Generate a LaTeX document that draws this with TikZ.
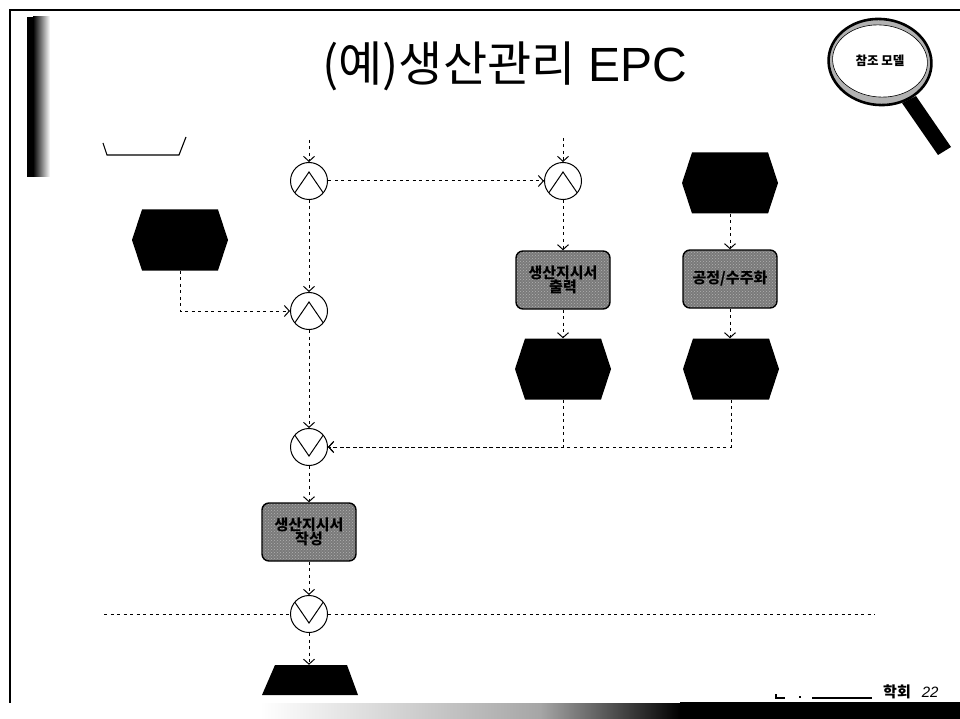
\documentclass[tikz,border=0pt]{standalone}
\usepackage{fontspec}
\setmainfont{Liberation Sans}
\newfontfamily\kr{Noto Sans CJK KR}
\usetikzlibrary{arrows.meta,patterns,calc,shapes.geometric}
\tikzset{
  conn/.style={line width=1pt,dash pattern=on 3pt off 3.5pt,-{Straight Barb[length=5pt,width=11pt,line width=1pt]}},
  plainconn/.style={line width=1pt,dash pattern=on 3pt off 3.5pt},
  hexbox/.style={rectangle,minimum width=96pt,minimum height=61pt,inner sep=0pt,
    path picture={\fill[black]
      (path picture bounding box.west)
      -- ([xshift=10pt]path picture bounding box.north west)
      -- ([xshift=-10pt]path picture bounding box.north east)
      -- (path picture bounding box.east)
      -- ([xshift=-10pt]path picture bounding box.south east)
      -- ([xshift=10pt]path picture bounding box.south west) -- cycle;}},
  trapbox/.style={rectangle,minimum width=96pt,minimum height=30pt,inner sep=0pt,
    path picture={\fill[black]
      (path picture bounding box.south west)
      -- ([xshift=13pt]path picture bounding box.north west)
      -- ([xshift=-11pt]path picture bounding box.north east)
      -- (path picture bounding box.south east) -- cycle;}},
  funcbox/.style={rectangle,rounded corners=7pt,draw=black,line width=1.4pt,minimum width=94pt,minimum height=58pt,
    inner sep=0pt,align=center,font=\kr\bfseries\fontsize{15}{15}\selectfont,text=black,
    preaction={fill=black!52},pattern=crosshatch dots,pattern color=white!70!black},
  andc/.style={circle,draw=black,fill=white,line width=1pt,minimum size=37pt,inner sep=0pt,
    path picture={\draw[line width=1pt]
      ([xshift=-15pt,yshift=-13pt]path picture bounding box.center)
      -- ([yshift=9pt]path picture bounding box.center)
      -- ([xshift=15pt,yshift=-13pt]path picture bounding box.center);}},
  orc/.style={circle,draw=black,fill=white,line width=1pt,minimum size=37pt,inner sep=0pt,
    path picture={\draw[line width=1pt]
      ([xshift=-15pt,yshift=13pt]path picture bounding box.center)
      -- ([yshift=-9pt]path picture bounding box.center)
      -- ([xshift=15pt,yshift=13pt]path picture bounding box.center);}},
}
\begin{document}
\begin{tikzpicture}[x=1pt,y=-1pt]
\useasboundingbox (0,0) rectangle (960,719);
\fill[white] (0,0) rectangle (960,719);
% frame
\draw[line width=1.6pt] (960,10) -- (10,10) -- (10,703);
% left gradient bar
\fill[black] (27,17) rectangle (33,177);
\shade[left color=black,right color=white] (33,17) rectangle (50,177);
% bottom gradient bar
\shade[left color=white,right color=black!35] (260,703) rectangle (540,719);
\shade[left color=black!35,right color=black] (540,703) rectangle (680,719);
\fill[black] (680,702) rectangle (960,719);
% title
\node[inner sep=0pt] (title) at (505,66) {\fontsize{48}{50}\selectfont{\kr (예)생산관리} EPC};
% magnifier
\fill[black] (902,103) -- (916,96) -- (951,147) -- (938,155) -- cycle;
\node[draw=black,line width=2.6pt,fill=black!30,ellipse,rotate=-5,minimum width=103pt,minimum height=86pt,inner sep=0pt] (lens) at (880,62) {};
\node[draw=black,line width=0.6pt,fill=white,ellipse,rotate=-5,minimum width=95pt,minimum height=72pt,inner sep=0pt] (lensin) at (880,61) {};
\node[inner sep=0pt] (lenstext) at (880,61) {\kr\bfseries\fontsize{12.5}{13}\selectfont 참조 모델};
% open trapezoid
\coordinate (ta) at (103,143); \coordinate (tb) at (107,155);
\coordinate (tc) at (179,155); \coordinate (td) at (186,137);
\draw[line width=1.1pt] (ta) -- (tb) -- (tc) -- (td);
% nodes
\node[hexbox] (h1) at (180,240) {};
\node[hexbox] (h2) at (730,183) {};
\node[hexbox] (h3) at (563,369) {};
\node[hexbox] (h4) at (731,369) {};
\node[andc] (a1) at (309,181) {};
\node[andc] (a2) at (563,181) {};
\node[andc] (a3) at (309,311) {};
\node[orc] (o1) at (309,447) {};
\node[orc] (o2) at (309,614) {};
\node[funcbox] (f1) at (563,280) {생산지시서\\[-1pt]출력};
\node[funcbox] (f2) at (730,279) {공정/수주화};
\node[funcbox] (f3) at (309,532) {생산지시서\\[-1pt]작성};
\node[trapbox] (t1) at (310,680) {};
% free ends
\coordinate (s1) at (309,140);
\coordinate (s2) at (563,138);
\coordinate (l1) at (104,614);
\coordinate (l2) at (875,614);
% connectors
\draw[conn] (s1) -- (a1);
\draw[conn] (s2) -- (a2);
\draw[conn] (a1) -- (a2);
\draw[conn] (a1) -- (a3);
\draw[conn] (h1.south) |- (a3);
\draw[conn] (a3) -- (o1);
\draw[conn] (a2) -- (f1);
\draw[conn] (f1) -- (h3);
\draw[conn] (h2) -- (f2);
\draw[conn] (f2) -- (h4.north -| f2);
\draw[conn] (h3.south) |- (o1);
\draw[conn] (h4.south) |- (o1);
\draw[conn] (o1) -- (f3);
\draw[conn] (f3) -- (o2);
\draw[conn] (o2) -- (t1.north -| o2);
\draw[plainconn] (l1) -- (o2);
\draw[plainconn] (o2) -- (l2);
% footer
\node[anchor=west,inner sep=0pt] (foot) at (883,692) {\fontsize{15}{16}\selectfont{\kr\bfseries 학회}\hspace{11pt}\itshape 22};
\draw[line width=1.2pt] (776,694) -- (776,698) -- (785,698);
\draw[line width=1.2pt] (800,696) -- (800,698);
\draw[line width=1.2pt] (812,698) -- (872,698);
\end{tikzpicture}
\end{document}
